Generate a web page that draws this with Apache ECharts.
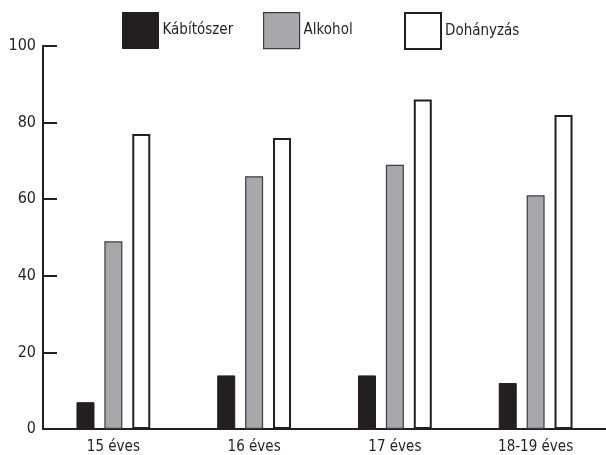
<!DOCTYPE html>
<html>
<head>
<meta charset="utf-8">
<script src="https://cdn.jsdelivr.net/npm/echarts@6/dist/echarts.min.js"></script>
<style>html,body{margin:0;padding:0;background:#fff}#c{width:606px;height:455px}</style>
</head>
<body>
<div id="c"></div>
<script>
var categories = ['15 éves', '16 éves', '17 éves', '18-19 éves'];
var seriesNames = ['Kábítószer', 'Alkohol', 'Dohányzás'];
var kabitoszer = [7, 14, 14, 12];
var alkohol = [49, 66, 69, 61];
var dohanyzas = [77, 76, 86, 82];
var yTicks = [0, 20, 40, 60, 80, 100];

var FONT = "'Liberation Sans Narrow', 'DejaVu Sans Condensed', 'Roboto Condensed', sans-serif";
var INK = '#231f20';
var styles = [
  {color: INK, borderColor: INK, borderWidth: 1},
  {color: '#a7a8ab', borderColor: '#3c3c3e', borderWidth: 1.2},
  {color: '#ffffff', borderColor: INK, borderWidth: 2}
];
var legendLefts = [122, 263, 404];

var chart = echarts.init(document.getElementById('c'), null, {renderer: 'canvas'});
chart.setOption({
  animation: false,
  backgroundColor: '#fff',
  textStyle: {fontFamily: FONT},
  legend: seriesNames.map(function (n, i) {
    return {
      data: [n], left: legendLefts[i], top: 12, itemWidth: 36, itemHeight: 36,
      icon: 'rect', selectedMode: false, padding: 0,
      textStyle: {fontFamily: FONT, fontSize: 15, color: INK, padding: [0, 0, 0, -1]},
      itemStyle: styles[i]
    };
  }),
  grid: {left: 43, right: -1, top: 46, bottom: 26, containLabel: false},
  xAxis: {
    type: 'category', data: categories,
    axisLine: {lineStyle: {color: INK, width: 2}},
    axisTick: {inside: true, length: 8, lineStyle: {color: INK, width: 2}, alignWithLabel: false},
    axisLabel: {fontFamily: FONT, fontSize: 15, color: INK, margin: 11}
  },
  yAxis: {
    type: 'value', min: yTicks[0], max: yTicks[yTicks.length - 1], interval: 20,
    splitLine: {show: false},
    axisLine: {show: true, lineStyle: {color: INK, width: 2}},
    axisTick: {show: true, inside: true, length: 14, lineStyle: {color: INK, width: 2}},
    axisLabel: {fontFamily: FONT, fontSize: 16, color: INK, margin: 7}
  },
  series: [kabitoszer, alkohol, dohanyzas].map(function (d, i) {
    return {
      name: seriesNames[i], type: 'bar', data: d, barWidth: 18, barGap: '55%',
      itemStyle: styles[i]
    };
  })
});
</script>
</body>
</html>
